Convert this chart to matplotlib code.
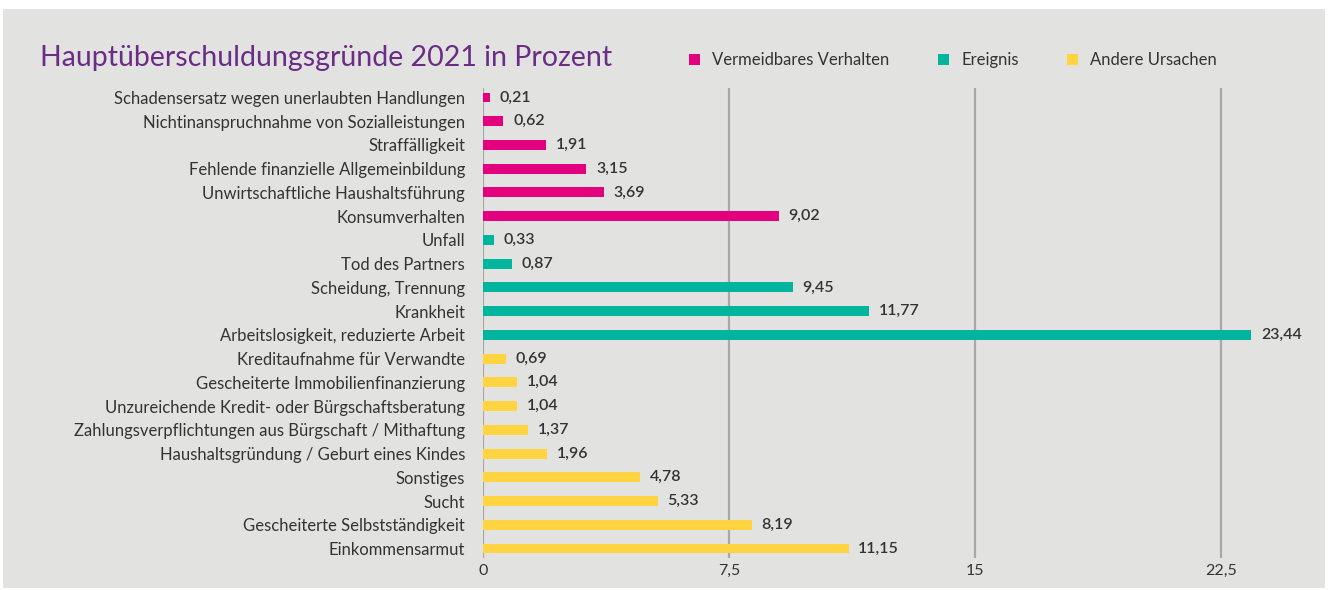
import matplotlib.pyplot as plt
from matplotlib.patches import Patch

labels = [
    "Schadensersatz wegen unerlaubten Handlungen",
    "Nichtinanspruchnahme von Sozialleistungen",
    "Straffälligkeit",
    "Fehlende finanzielle Allgemeinbildung",
    "Unwirtschaftliche Haushaltsführung",
    "Konsumverhalten",
    "Unfall",
    "Tod des Partners",
    "Scheidung, Trennung",
    "Krankheit",
    "Arbeitslosigkeit, reduzierte Arbeit",
    "Kreditaufnahme für Verwandte",
    "Gescheiterte Immobilienfinanzierung",
    "Unzureichende Kredit- oder Bürgschaftsberatung",
    "Zahlungsverpflichtungen aus Bürgschaft / Mithaftung",
    "Haushaltsgründung / Geburt eines Kindes",
    "Sonstiges",
    "Sucht",
    "Gescheiterte Selbstständigkeit",
    "Einkommensarmut",
]
values = [0.21, 0.62, 1.91, 3.15, 3.69, 9.02,
          0.33, 0.87, 9.45, 11.77, 23.44,
          0.69, 1.04, 1.04, 1.37, 1.96, 4.78, 5.33, 8.19, 11.15]
groups = [0] * 6 + [1] * 5 + [2] * 9
group_names = ["Vermeidbares Verhalten", "Ereignis", "Andere Ursachen"]
group_colors = ["#e3007e", "#00b49d", "#ffd440"]
ticks = [0, 7.5, 15, 22.5]

plt.rcParams["font.family"] = ["Lato", "DejaVu Sans"]
bg = "#e2e3e1"
txt = "#333333"

fig = plt.figure(figsize=(13.3, 5.9), dpi=100, facecolor="white")
fig.patches.append(plt.Rectangle((3 / 1330, 2 / 590), 1322 / 1330, 579 / 590,
                                 transform=fig.transFigure, facecolor=bg,
                                 edgecolor="none", zorder=-10))
ax = fig.add_axes([483 / 1330, 32 / 590, 836 / 1330, 470 / 590])
ax.set_facecolor(bg)

y = list(range(len(labels)))
ax.barh(y, values, height=0.42, color=[group_colors[g] for g in groups], zorder=3)
for yi, v in zip(y, values):
    ax.text(v + 0.3, yi, f"{v:.2f}".replace(".", ","), va="center", ha="left",
            fontsize=11.5, color=txt, fontweight="semibold")

ax.set_xlim(0, 25.5)
ax.set_ylim(19.4, -0.4)
ax.set_yticks(y)
ax.set_yticklabels(labels, fontsize=12, color=txt)
ax.set_xticks(ticks)
ax.set_xticklabels(["0", "7,5", "15", "22,5"], fontsize=11.5, color=txt)
ax.tick_params(axis="x", length=0, pad=4)
ax.tick_params(axis="y", length=0, pad=13)
for t in ticks:
    ax.axvline(t, color="#a8a8a8", linewidth=1.6, zorder=1)
for s in ax.spines.values():
    s.set_visible(False)

fig.text(40 / 1330, 1 - 58 / 590, "Hauptüberschuldungsgründe 2021 in Prozent",
         fontsize=20.5, color="#6a2c86", va="center", ha="left")

handles = [Patch(facecolor=c, edgecolor="none") for c in group_colors]
fig.legend(handles, group_names, loc="center left",
           bbox_to_anchor=(674 / 1330, 1 - 60 / 590), ncol=3, frameon=False,
           fontsize=12, handlelength=0.65, handleheight=0.65, handletextpad=0.75,
           columnspacing=2.9, labelcolor=txt)

fig.savefig("out.png", dpi=100, facecolor="white")
